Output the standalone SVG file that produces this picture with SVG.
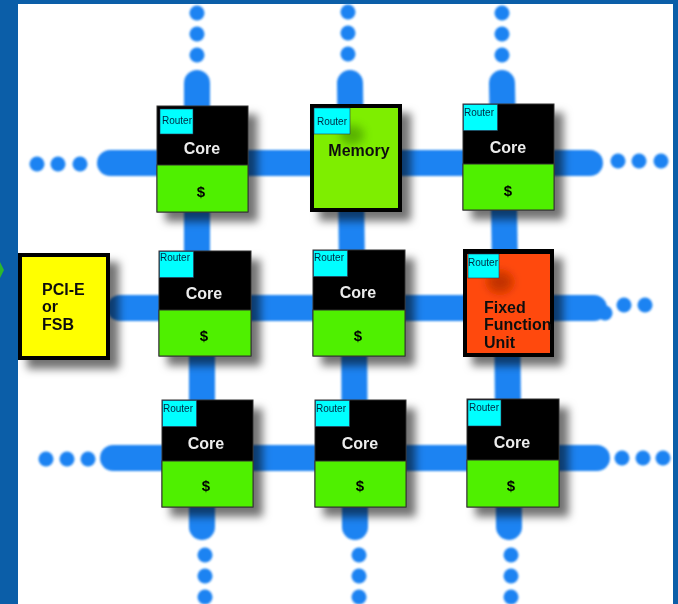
<svg xmlns="http://www.w3.org/2000/svg" width="678" height="604" viewBox="0 0 678 604">
<defs>
<filter id="shadow" x="-20%" y="-20%" width="150%" height="150%">
<feDropShadow dx="9" dy="9" stdDeviation="4" flood-color="#000" flood-opacity="0.55"/>
</filter>
<filter id="soft" x="-5%" y="-5%" width="110%" height="110%">
<feGaussianBlur stdDeviation="0.8"/>
</filter>
<filter id="blob" x="-100%" y="-100%" width="300%" height="300%">
<feGaussianBlur stdDeviation="5"/>
</filter>
<style>
.ln{stroke:#1f83f2;stroke-width:26;stroke-linecap:round;fill:none}
.dot{fill:#1f83f2}
.blk{fill:#000;stroke:#333;stroke-width:1}
.grn{fill:#50f000;stroke:#333;stroke-width:1}
.rt{fill:#00ffff;stroke:#335;stroke-width:0.6}
.rtt{font-family:"Liberation Sans",Arial,sans-serif;font-size:10px;fill:#002a44}
.core{font-family:"Liberation Sans",Arial,sans-serif;font-size:16px;font-weight:bold;fill:#ececec;text-anchor:middle}
.cash{font-family:"Liberation Sans",Arial,sans-serif;font-size:15px;font-weight:bold;fill:#000;text-anchor:middle}
.lbl{font-family:"Liberation Sans",Arial,sans-serif;font-size:16px;font-weight:bold;fill:#111}
</style>
</defs>
<rect x="0" y="0" width="678" height="604" fill="#0b5ea8"/>
<rect x="18" y="4" width="655" height="600" fill="#ffffff"/>
<polygon points="0,262 4,270 0,278" fill="#2cb82c"/>

<g id="connectors" filter="url(#soft)">
<line class="ln" x1="110" y1="163" x2="590" y2="163"/>
<line class="ln" x1="120" y1="308" x2="594" y2="308"/>
<line class="ln" x1="113" y1="458" x2="597" y2="458"/>
<line class="ln" x1="197" y1="83" x2="197" y2="270"/>
<line class="ln" x1="202" y1="300" x2="202" y2="527"/>
<line class="ln" x1="350" y1="83" x2="352" y2="270"/>
<line class="ln" x1="354" y1="300" x2="355" y2="527"/>
<line class="ln" x1="502" y1="83" x2="505" y2="270"/>
<line class="ln" x1="507" y1="300" x2="509" y2="527"/>
<g class="dots">
<circle class="dot" cx="197" cy="13" r="7.5"/><circle class="dot" cx="197" cy="34" r="7.5"/><circle class="dot" cx="197" cy="55" r="7.5"/>
<circle class="dot" cx="348" cy="12" r="7.5"/><circle class="dot" cx="348" cy="33" r="7.5"/><circle class="dot" cx="348" cy="54" r="7.5"/>
<circle class="dot" cx="502" cy="13" r="7.5"/><circle class="dot" cx="502" cy="34" r="7.5"/><circle class="dot" cx="502" cy="55" r="7.5"/>
<circle class="dot" cx="37" cy="164" r="7.5"/><circle class="dot" cx="58" cy="164" r="7.5"/><circle class="dot" cx="80" cy="164" r="7.5"/>
<circle class="dot" cx="618" cy="161" r="7.5"/><circle class="dot" cx="639" cy="161" r="7.5"/><circle class="dot" cx="661" cy="161" r="7.5"/>
<circle class="dot" cx="605" cy="313" r="7.5"/><circle class="dot" cx="624" cy="305" r="7.5"/><circle class="dot" cx="645" cy="305" r="7.5"/>
<circle class="dot" cx="46" cy="459" r="7.5"/><circle class="dot" cx="67" cy="459" r="7.5"/><circle class="dot" cx="88" cy="459" r="7.5"/>
<circle class="dot" cx="622" cy="458" r="7.5"/><circle class="dot" cx="643" cy="458" r="7.5"/><circle class="dot" cx="663" cy="458" r="7.5"/>
<circle class="dot" cx="205" cy="555" r="7.5"/><circle class="dot" cx="205" cy="576" r="7.5"/><circle class="dot" cx="205" cy="597" r="7.5"/>
<circle class="dot" cx="359" cy="555" r="7.5"/><circle class="dot" cx="359" cy="576" r="7.5"/><circle class="dot" cx="359" cy="597" r="7.5"/>
<circle class="dot" cx="511" cy="555" r="7.5"/><circle class="dot" cx="511" cy="576" r="7.5"/><circle class="dot" cx="511" cy="597" r="7.5"/>
</g>
</g>

<g id="core-r1c1" filter="url(#shadow)">
<rect class="blk" x="157" y="106" width="91" height="106"/>
<rect class="grn" x="157" y="165" width="91" height="47"/>
<rect class="rt" x="160" y="109" width="33" height="25"/>
<text class="rtt" x="162" y="124">Router</text>
<text class="core" x="202" y="154">Core</text>
<text class="cash" x="201" y="197">$</text>
</g>

<g id="memory" filter="url(#shadow)">
<rect x="310" y="104" width="92" height="108" fill="#000"/>
<rect x="314" y="108" width="84" height="100" fill="#7eee00"/>
<ellipse cx="352" cy="135" rx="12" ry="10" fill="#2a6a00" opacity="0.45" filter="url(#blob)"/>
<rect class="rt" x="314" y="108" width="36" height="26"/>
<text class="rtt" x="317" y="125">Router</text>
<text class="lbl" x="359" y="156" text-anchor="middle">Memory</text>
</g>

<g id="core-r1c3" filter="url(#shadow)">
<rect class="blk" x="463" y="104" width="91" height="106"/>
<rect class="grn" x="463" y="164" width="91" height="46"/>
<rect class="rt" x="463.5" y="104.5" width="34" height="26"/>
<text class="rtt" x="464" y="116">Router</text>
<text class="core" x="508" y="153">Core</text>
<text class="cash" x="508" y="196">$</text>
</g>

<g id="pcie" filter="url(#shadow)">
<rect x="18" y="253" width="92" height="107" fill="#000"/>
<rect x="22" y="257" width="84" height="99" fill="#ffff00"/>
<text class="lbl" x="42" y="295">PCI-E</text>
<text class="lbl" x="42" y="312">or</text>
<text class="lbl" x="42" y="330">FSB</text>
</g>

<g id="core-r2c1" filter="url(#shadow)">
<rect class="blk" x="159" y="251" width="92" height="105"/>
<rect class="grn" x="159" y="310" width="92" height="46"/>
<rect class="rt" x="159.5" y="251.5" width="34" height="26"/>
<text class="rtt" x="160" y="261">Router</text>
<text class="core" x="204" y="299">Core</text>
<text class="cash" x="204" y="341">$</text>
</g>

<g id="core-r2c2" filter="url(#shadow)">
<rect class="blk" x="313" y="250" width="92" height="106"/>
<rect class="grn" x="313" y="310" width="92" height="46"/>
<rect class="rt" x="313.5" y="250.5" width="34" height="26"/>
<text class="rtt" x="314" y="261">Router</text>
<text class="core" x="358" y="298">Core</text>
<text class="cash" x="358" y="341">$</text>
</g>

<g id="ffu" filter="url(#shadow)">
<rect x="463" y="249" width="91" height="108" fill="#000"/>
<rect x="467" y="254" width="83" height="99" fill="#ff4a08"/>
<ellipse cx="500" cy="282" rx="13" ry="11" fill="#7a1800" opacity="0.45" filter="url(#blob)"/>
<rect class="rt" x="468" y="254" width="31" height="24"/>
<text class="rtt" x="468" y="266">Router</text>
<text class="lbl" x="484" y="313" fill="#1a0800">Fixed</text>
<text class="lbl" x="484" y="330" fill="#1a0800">Function</text>
<text class="lbl" x="484" y="348" fill="#1a0800">Unit</text>
</g>

<g id="core-r3c1" filter="url(#shadow)">
<rect class="blk" x="162" y="400" width="91" height="107"/>
<rect class="grn" x="162" y="461" width="91" height="46"/>
<rect class="rt" x="162.5" y="400.5" width="34" height="26"/>
<text class="rtt" x="163" y="412">Router</text>
<text class="core" x="206" y="449">Core</text>
<text class="cash" x="206" y="491">$</text>
</g>

<g id="core-r3c2" filter="url(#shadow)">
<rect class="blk" x="315" y="400" width="91" height="107"/>
<rect class="grn" x="315" y="461" width="91" height="46"/>
<rect class="rt" x="315.5" y="400.5" width="34" height="26"/>
<text class="rtt" x="316" y="412">Router</text>
<text class="core" x="360" y="449">Core</text>
<text class="cash" x="360" y="491">$</text>
</g>

<g id="core-r3c3" filter="url(#shadow)">
<rect class="blk" x="467" y="399" width="92" height="108"/>
<rect class="grn" x="467" y="460" width="92" height="47"/>
<rect class="rt" x="468" y="400" width="33" height="26"/>
<text class="rtt" x="469" y="411">Router</text>
<text class="core" x="512" y="448">Core</text>
<text class="cash" x="511" y="491">$</text>
</g>
</svg>
